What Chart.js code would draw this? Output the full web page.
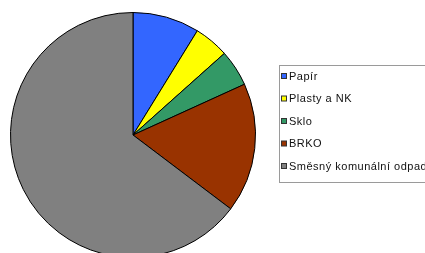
<!DOCTYPE html>
<html>
<head>
<meta charset="utf-8">
<script src="https://cdn.jsdelivr.net/npm/chart.js@4"></script>
<style>
  html, body { margin: 0; padding: 0; background: #fff; overflow: hidden; }
  #wrap { position: relative; width: 425px; height: 270px; }
</style>
</head>
<body>
<div id="wrap"><canvas id="pie" width="425" height="270"></canvas></div>
<script>
// podíly odpadu (%)
const labels = ['Papír', 'Plasty a NK', 'Sklo', 'BRKO', 'Směsný komunální odpad'];
const values = [8.8, 4.6, 4.8, 17.1, 64.7];
const colors = ['#3366FF', '#FFFF00', '#339966', '#993300', '#808080'];

// legenda vpravo, kreslena rucne
const boxLegend = {
  id: 'boxLegend',
  afterDraw(chart) {
    const ctx = chart.ctx;
    ctx.save();
    ctx.strokeStyle = '#9a9a9a';
    ctx.lineWidth = 1;
    ctx.strokeRect(279.5, 65.5, 160, 117);
    ctx.font = '11px "Liberation Sans", Arial, sans-serif';
    ctx.letterSpacing = '0.5px';
    ctx.textBaseline = 'middle';
    const ds = chart.data.datasets[0];
    chart.data.labels.forEach((lab, i) => {
      const y = 76 + i * 22.5;
      ctx.fillStyle = ds.backgroundColor[i];
      ctx.fillRect(281.5, y - 2.5, 5, 5);
      ctx.strokeStyle = '#333';
      ctx.strokeRect(281.5, y - 2.5, 5, 5);
      ctx.fillStyle = '#111';
      ctx.fillText(lab, 289, y + 0.5);
    });
    ctx.restore();
  }
};

new Chart(document.getElementById('pie'), {
  type: 'pie',
  data: {
    labels: labels,
    datasets: [{
      data: values,
      backgroundColor: colors,
      borderColor: '#000',
      borderWidth: 1
    }]
  },
  options: {
    responsive: false,
    animation: false,
    devicePixelRatio: 1,
    layout: { padding: { left: 10, top: 12, right: 169, bottom: 12 } },
    plugins: {
      legend: { display: false },
      tooltip: { enabled: false }
    }
  },
  plugins: [boxLegend]
});
</script>
</body>
</html>
